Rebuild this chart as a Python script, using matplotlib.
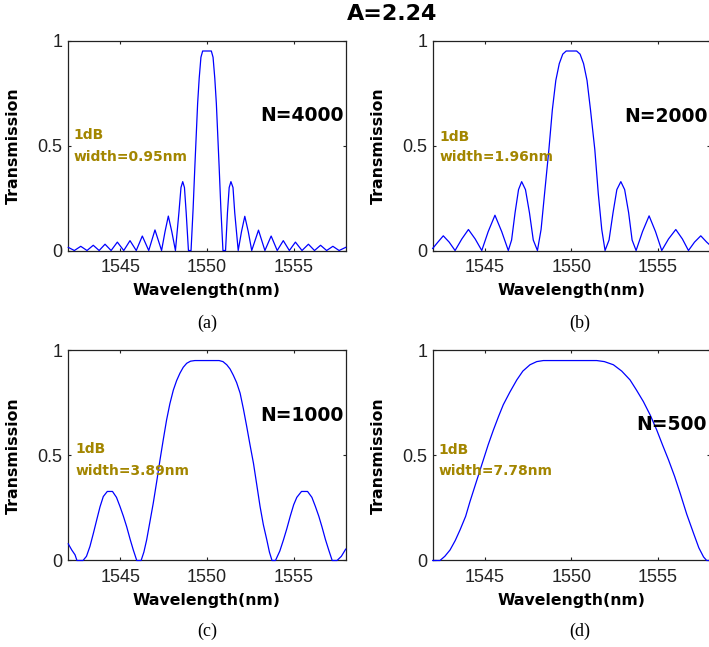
import matplotlib
matplotlib.use('Agg')
import matplotlib.pyplot as plt

# Wavelength (nm) and transmission
wl_a = [1542.0, 1542.35, 1542.72, 1543.08, 1543.44, 1543.78, 1544.12, 1544.47,
        1544.83, 1545.2, 1545.56, 1545.92, 1546.27, 1546.64, 1547.0, 1547.38,
        1547.58, 1547.77, 1547.97, 1548.18, 1548.38, 1548.5, 1548.6, 1548.7,
        1548.8, 1548.93, 1549.08, 1549.2, 1549.3, 1549.38, 1549.46, 1549.55,
        1549.65, 1549.75, 1550.25, 1550.35, 1550.45, 1550.54, 1550.62, 1550.7,
        1550.8, 1550.92, 1551.07, 1551.18, 1551.28, 1551.38, 1551.5, 1551.6,
        1551.8, 1551.99, 1552.18, 1552.38, 1552.58, 1552.97, 1553.34, 1553.7,
        1554.05, 1554.4, 1554.75, 1555.1, 1555.48, 1555.85, 1556.2, 1556.55,
        1556.9, 1557.26, 1557.62, 1558.0]
tr_a = [0.015, 0.0, 0.02, 0.0, 0.025, 0.0, 0.03, 0.0,
        0.04, 0.0, 0.047, 0.0, 0.069, 0.0, 0.098, 0.0,
        0.09, 0.164, 0.09, 0.0, 0.18, 0.3, 0.328, 0.3,
        0.18, 0.0, 0.0, 0.2, 0.4, 0.55, 0.7, 0.82,
        0.92, 0.95, 0.95, 0.92, 0.82, 0.7, 0.55, 0.4,
        0.2, 0.0, 0.0, 0.18, 0.3, 0.328, 0.3, 0.18,
        0.0, 0.09, 0.163, 0.09, 0.0, 0.097, 0.0, 0.069,
        0.0, 0.047, 0.0, 0.04, 0.0, 0.03, 0.0, 0.025,
        0.0, 0.02, 0.0, 0.015]

wl_b = [1542.0, 1542.3, 1542.61, 1542.95, 1543.29, 1543.68, 1544.06, 1544.45,
        1544.83, 1545.2, 1545.59, 1545.98, 1546.36, 1546.55, 1546.75, 1546.95,
        1547.13, 1547.35, 1547.58, 1547.8, 1548.04, 1548.25, 1548.45, 1548.7,
        1548.9, 1549.1, 1549.3, 1549.5, 1549.7, 1550.3, 1550.5, 1550.7,
        1550.9, 1551.1, 1551.35, 1551.55, 1551.75, 1551.94, 1552.17, 1552.4,
        1552.62, 1552.85, 1553.07, 1553.3, 1553.5, 1553.73, 1554.1, 1554.48,
        1554.85, 1555.21, 1555.6, 1556.02, 1556.4, 1556.75, 1557.1, 1557.46,
        1557.8, 1558.0]
tr_b = [0.01, 0.04, 0.07, 0.04, 0.0, 0.055, 0.10, 0.055,
        0.0, 0.09, 0.168, 0.09, 0.0, 0.05, 0.18, 0.29,
        0.328, 0.29, 0.18, 0.05, 0.0, 0.1, 0.27, 0.48,
        0.67, 0.81, 0.89, 0.935, 0.95, 0.95, 0.935, 0.89,
        0.81, 0.67, 0.48, 0.27, 0.1, 0.0, 0.05, 0.18,
        0.29, 0.328, 0.29, 0.18, 0.05, 0.0, 0.09, 0.165,
        0.09, 0.0, 0.055, 0.10, 0.055, 0.0, 0.04, 0.07,
        0.04, 0.025]

wl_c = [1542.0, 1542.2, 1542.39, 1542.5, 1542.85, 1543.05, 1543.25, 1543.45,
        1543.64, 1543.83, 1544.02, 1544.25, 1544.55, 1544.78, 1544.98, 1545.18,
        1545.37, 1545.57, 1545.75, 1545.95, 1546.2, 1546.36, 1546.52, 1546.7,
        1546.9, 1547.1, 1547.29, 1547.48, 1547.67, 1547.86, 1548.06, 1548.25,
        1548.44, 1548.63, 1548.83, 1549.05, 1549.3, 1550.7, 1550.92, 1551.14,
        1551.33, 1551.52, 1551.71, 1551.91, 1552.1, 1552.29, 1552.48, 1552.68,
        1552.87, 1553.06, 1553.25, 1553.45, 1553.6, 1553.75, 1553.95, 1554.2,
        1554.41, 1554.6, 1554.8, 1555.0, 1555.18, 1555.45, 1555.8, 1556.05,
        1556.25, 1556.45, 1556.63, 1556.83, 1557.02, 1557.22, 1557.5, 1557.75,
        1558.0]
tr_c = [0.079, 0.05, 0.027, 0.0, 0.0, 0.02, 0.067, 0.13,
        0.193, 0.255, 0.304, 0.328, 0.328, 0.3, 0.257, 0.21,
        0.16, 0.1, 0.05, 0.0, 0.0, 0.04, 0.098, 0.18,
        0.272, 0.375, 0.478, 0.575, 0.668, 0.745, 0.81, 0.855,
        0.89, 0.918, 0.937, 0.947, 0.95, 0.95, 0.945, 0.93,
        0.91, 0.88, 0.845, 0.795, 0.72, 0.637, 0.55, 0.462,
        0.36, 0.257, 0.17, 0.098, 0.04, 0.0, 0.0, 0.045,
        0.098, 0.15, 0.21, 0.265, 0.30, 0.328, 0.328, 0.3,
        0.257, 0.21, 0.16, 0.1, 0.05, 0.0, 0.0, 0.02,
        0.054]

wl_d = [1542.0, 1542.42, 1542.7, 1543.0, 1543.3, 1543.58, 1543.9, 1544.15,
        1544.5, 1544.92, 1545.2, 1545.5, 1545.8, 1546.07, 1546.45, 1546.85,
        1547.2, 1547.61, 1548.0, 1548.38, 1551.46, 1551.9, 1552.42, 1552.9,
        1553.38, 1553.75, 1554.15, 1554.55, 1554.92, 1555.25, 1555.6, 1555.95,
        1556.27, 1556.65, 1557.04, 1557.35, 1557.62, 1557.8, 1558.0]
tr_d = [0.0, 0.0, 0.02, 0.05, 0.095, 0.146, 0.21, 0.28,
        0.37, 0.478, 0.55, 0.62, 0.685, 0.74, 0.80, 0.858,
        0.9, 0.93, 0.945, 0.95, 0.95, 0.945, 0.93, 0.9,
        0.858, 0.81, 0.755, 0.69, 0.62, 0.55, 0.478, 0.40,
        0.32, 0.22, 0.13, 0.06, 0.017, 0.0, 0.0]

n_labels = ['N=4000', 'N=2000', 'N=1000', 'N=500']
widths = ['width=0.95nm', 'width=1.96nm', 'width=3.89nm', 'width=7.78nm']
panel_tags = ['(a)', '(b)', '(c)', '(d)']

fig = plt.figure(figsize=(7.09, 6.47), dpi=100)

boxes = [[0.0963, 0.6128, 0.3913, 0.3246],
         [0.6103, 0.6128, 0.3913, 0.3246],
         [0.0963, 0.1337, 0.3913, 0.3253],
         [0.6103, 0.1337, 0.3913, 0.3253]]
curves = [(wl_a, tr_a), (wl_b, tr_b), (wl_c, tr_c), (wl_d, tr_d)]
n_pos = [(1553.06, 0.645), (1553.05, 0.64), (1553.06, 0.69), (1553.75, 0.648)]
db_pos = [(1542.29, 0.55, 0.443), (1542.38, 0.542, 0.447),
          (1542.39, 0.528, 0.427), (1542.32, 0.525, 0.427)]
tag_x = [207, 580, 207, 580]
tag_y = [323, 323, 631, 631]

gold = '#a38600'

for i, ax_box in enumerate(boxes):
    ax = fig.add_axes(ax_box)
    wl, tr = curves[i]
    ax.plot(wl, tr, color='#0000ff', lw=0.9, zorder=3, clip_on=False)
    ax.set_xlim(1542, 1558)
    ax.set_ylim(0, 1)
    ax.set_xticks([1545, 1550, 1555])
    ax.set_yticks([0, 0.5, 1])
    ax.set_yticklabels(['0', '0.5', '1'])
    ax.tick_params(direction='in', length=2.5, width=0.8, top=True, right=True,
                   labelsize=13, colors='#222222', pad=6)
    for lab in ax.get_xticklabels() + ax.get_yticklabels():
        lab.set_fontfamily('Liberation Sans')
    ax.tick_params(axis='y', pad=4)
    for sp in ax.spines.values():
        sp.set_linewidth(0.9)
        sp.set_color('#222222')
    ax.set_xlabel('Wavelength(nm)', fontsize=11.3, fontweight='bold')
    ax.set_ylabel('Transmission', fontsize=11.3, fontweight='bold')
    ax.xaxis.label.set_va('center')
    ax.yaxis.label.set_va('center')
    ax.xaxis.set_label_coords(0.5, -0.188)
    ax.yaxis.set_label_coords(-0.197, 0.5)

    ax.text(n_pos[i][0], n_pos[i][1], n_labels[i], fontsize=13.5,
            fontweight='bold', va='center', ha='left')
    x0, y1, y2 = db_pos[i]
    ax.text(x0, y1, '1dB', color=gold, fontsize=10, fontweight='bold',
            va='center', ha='left')
    ax.text(x0, y2, widths[i], color=gold, fontsize=10, fontweight='bold',
            va='center', ha='left')

    fig.text(tag_x[i] / 709, 1 - tag_y[i] / 647, panel_tags[i],
             fontfamily='Liberation Serif', fontsize=13, ha='center', va='center')

fig.text(392 / 709, 1 - 13.5 / 647, 'A=2.24', fontsize=16, fontweight='bold',
         ha='center', va='center')

fig.savefig('out.png', dpi=100)
